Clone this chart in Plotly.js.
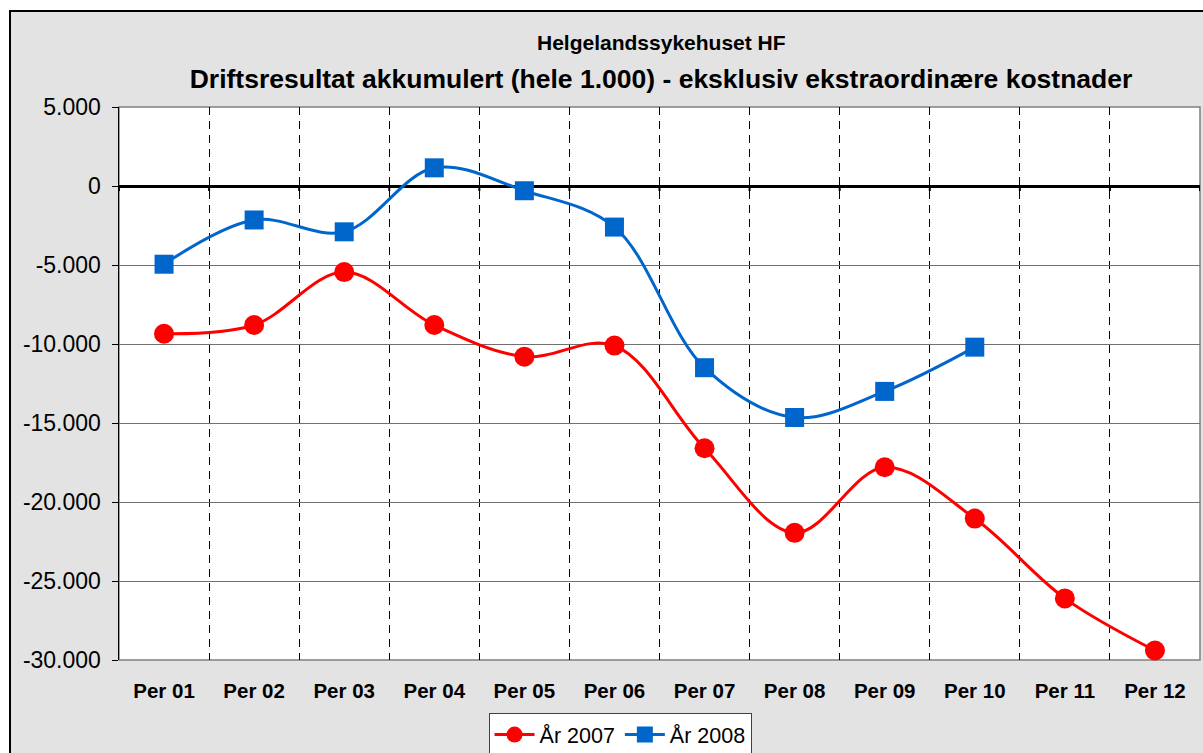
<!DOCTYPE html>
<html><head><meta charset="utf-8">
<script src="https://cdn.plot.ly/plotly-3.0.1.min.js"></script>
<style>
html,body{margin:0;padding:0;background:#fff;width:1203px;height:753px;overflow:hidden;}
#bg{position:absolute;left:9px;top:10px;width:1300px;height:800px;background:#e3e3e3;border-left:2px solid #000;border-top:2px solid #000;}
#chart{position:absolute;left:0;top:0;width:1203px;height:753px;}
</style></head><body>
<div id="bg"></div>
<div id="chart"></div>
<script>
const categories = ["Per 01","Per 02","Per 03","Per 04","Per 05","Per 06","Per 07","Per 08","Per 09","Per 10","Per 11","Per 12"];
const values2007 = [-9350,-8800,-5450,-8800,-10800,-10100,-16600,-21950,-17800,-21050,-26100,-29400];
const values2008 = [-4950,-2150,-2900,1150,-300,-2600,-11500,-14650,-13000,-10200];
const yTickVals = [5000,0,-5000,-10000,-15000,-20000,-25000,-30000];
const yTickText = ["5.000","0","-5.000","-10.000","-15.000","-20.000","-25.000","-30.000"];
const subtitleText = "Helgelandssykehuset HF";
const titleText = "Driftsresultat akkumulert (hele 1.000) - eksklusiv ekstraordinære kostnader";

const FONT = "Liberation Sans, Arial, sans-serif";
const traces = [
 {x: categories, y: values2007, name: "År 2007", type: "scatter", mode: "lines+markers",
  line: {color: "#ff0000", width: 3, shape: "spline", smoothing: 1},
  marker: {symbol: "circle", size: 20, color: "#ff0000"}, cliponaxis: false},
 {x: categories.slice(0, values2008.length), y: values2008, name: "År 2008", type: "scatter", mode: "lines+markers",
  line: {color: "#0066cc", width: 3, shape: "spline", smoothing: 1},
  marker: {symbol: "square", size: 19, color: "#0066cc"}, cliponaxis: false}
];

const shapes = [];
for (let i = 0; i <= categories.length; i++) {
  shapes.push({type: "line", xref: "x", yref: "y", ysizemode: "pixel", yanchor: 0,
    x0: i - 0.5, x1: i - 0.5, y0: 0, y1: -5, line: {color: "#000", width: 2}});
}
shapes.push({type: "rect", xref: "paper", yref: "paper", x0: 0, x1: 1, y0: 0, y1: 1,
  line: {color: "#808080", width: 1.5}, layer: "below"});

const layout = {
  width: 1203, height: 753,
  paper_bgcolor: "rgba(0,0,0,0)", plot_bgcolor: "#fff",
  margin: {l: 119, r: 3, t: 107, b: 93, autoexpand: false},
  font: {family: FONT, color: "#000"},
  title: {text: titleText, font: {size: 26.5, family: FONT, weight: "bold"},
    xref: "paper", x: 0.5014, xanchor: "center", yref: "container", y: 0.896, yanchor: "middle"},
  annotations: [{text: subtitleText, xref: "paper", yref: "paper", x: 0.5014, y: 1.1175,
    xanchor: "center", yanchor: "middle", showarrow: false, font: {size: 21, family: FONT, weight: "bold"}}],
  xaxis: {type: "category", range: [-0.5, 11.5], tickson: "boundaries", ticks: "", automargin: false,
    showgrid: true, gridcolor: "#000", gridwidth: 1, griddash: "8px,6px",
    showline: false, zeroline: false,
    tickfont: {size: 20.5, family: FONT, weight: "bold"}, ticklabelstandoff: 16},
  yaxis: {range: [-30000, 5000], tickvals: yTickVals, ticktext: yTickText, ticks: "outside", ticklen: 6, tickcolor: "#000", tickwidth: 1, automargin: false,
    showgrid: true, gridcolor: "#707070", gridwidth: 1,
    zeroline: true, zerolinecolor: "#000", zerolinewidth: 3,
    showline: true, linecolor: "#000", linewidth: 1.5,
    tickfont: {size: 23, family: FONT}, ticklabelstandoff: 6},
  showlegend: true,
  legend: {orientation: "h", x: 0.4635, xanchor: "center", y: -0.096, yanchor: "top",
    bgcolor: "#fff", bordercolor: "#404040", borderwidth: 1,
    font: {size: 21.5, family: FONT}, itemwidth: 40, tracegroupgap: 0},
  shapes: shapes
};
Plotly.newPlot("chart", traces, layout, {displayModeBar: false, staticPlot: true});
</script></body></html>
